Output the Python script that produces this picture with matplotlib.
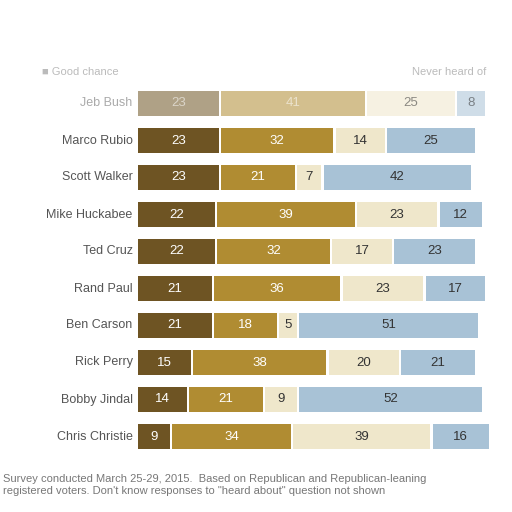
import matplotlib
matplotlib.use("Agg")
import matplotlib.pyplot as plt

names = ["Jeb Bush","Marco Rubio","Scott Walker","Mike Huckabee","Ted Cruz",
         "Rand Paul","Ben Carson","Rick Perry","Bobby Jindal","Chris Christie"]
good = [23,23,23,22,22,21,21,15,14,9]
some = [41,32,21,39,32,36,18,38,21,34]
nochance = [25,14,7,23,17,23,5,20,9,39]
never = [8,25,42,12,23,17,51,21,52,16]
colors = ["#6e5423", "#b08c32", "#efe7cb", "#a8c2d6"]
textc = ["white", "white", "#333333", "#333333"]

fig = plt.figure(figsize=(5.12,5.12), dpi=100)
ax = fig.add_axes([138/512, 1-455/512, 355/512, 370/512])
ax.set_xlim(0, 101)
n = len(names)
ax.set_ylim(n-0.5, -0.5)
for i in range(n):
    vals = [good[i], some[i], nochance[i], never[i]]
    left = 0
    alpha = 0.55 if i == 0 else 1.0
    for j, v in enumerate(vals):
        ax.barh(i, v, left=left, height=0.68, color=colors[j], edgecolor="none",
                alpha=alpha)
        ax.text(left+v/2, i, str(v), ha="center", va="center", fontsize=9.5,
                color=textc[j], alpha=alpha, family="Liberation Sans")
        left += v + 0.6
    ax.text(-1.5, i, names[i], ha="right", va="center", fontsize=9,
            color="#555555" if i else "#aaaaaa", family="Liberation Sans")
ax.axis("off")
fig.text(42/512, 1-72/512, "\u25a0 Good chance", fontsize=8, color="#bbbbbb",
         family="Liberation Sans", va="center")
fig.text(486/512, 1-72/512, "Never heard of", fontsize=8, color="#bbbbbb",
         family="Liberation Sans", va="center", ha="right")
fig.text(3/512, 1-485/512, "Survey conducted March 25-29, 2015.  Based on Republican and Republican-leaning\nregistered voters. Don't know responses to \"heard about\" question not shown",
         fontsize=8, color="#777777", family="Liberation Sans", va="center", linespacing=1.25)
fig.savefig("out.png", dpi=100)
